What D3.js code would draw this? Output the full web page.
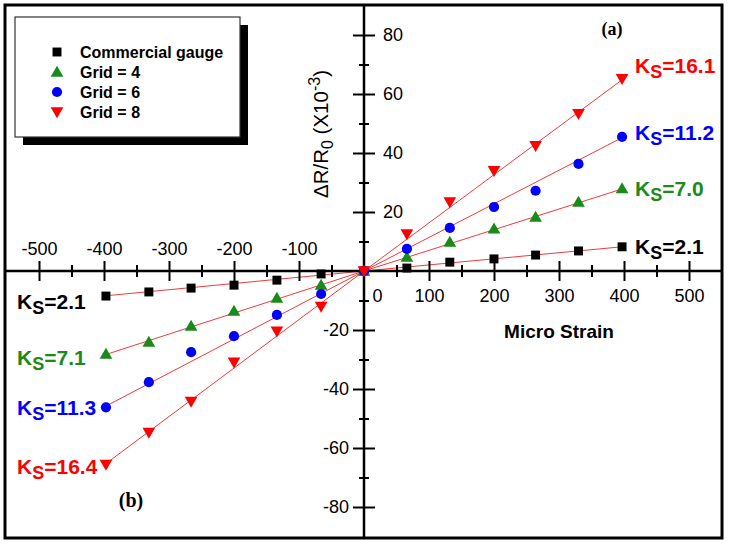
<!DOCTYPE html>
<html><head><meta charset="utf-8">
<script src="https://cdn.jsdelivr.net/npm/d3@7"></script>
<style>body{margin:0;background:#fff} svg{display:block}</style>
</head><body><svg id="c" width="731" height="546"></svg>
<script>
// ---- data ----
const strain     = [-397,-331,-266,-200,-134,-66,0,66,132,200,264,330,397];
const commercial = [-8.5,-7.1,-5.8,-4.8,-3.1,-1.0,0,1.0,3.0,4.1,5.4,6.8,8.2];
const grid4      = [-28.2,-24.1,-18.7,-13.6,-9.2,-4.8,0,4.7,9.8,14.3,18.3,23.4,27.9];
const grid6      = [-46.2,-37.7,-27.5,-22.1,-14.9,-7.8,0,7.5,14.6,21.7,27.2,36.3,45.5];
const grid8      = [-65.6,-54.7,-44.2,-30.9,-20.4,-12.0,0,12.6,23.4,34.0,42.5,53.3,65.2];
const fitX          = [-397, 0, 397];
const fitCommercial = [-8.4, 0, 8.2];
const fitGrid4      = [-28.3, 0, 27.8];
const fitGrid6      = [-45.8, 0, 45.2];
const fitGrid8      = [-65.3, 0, 64.8];
const seriesNames = ["Commercial gauge","Grid = 4","Grid = 6","Grid = 8"];
const ksRight = ["2.1","7.0","11.2","16.1"];
const ksLeft  = ["2.1","7.1","11.3","16.4"];
const xTicksNeg = [-500,-400,-300,-200,-100];
const xTicksPos = [0,100,200,300,400,500];
const xMinor = [-450,-350,-250,-150,-50,50,150,250,350,450];
const yTicksPos = [20,40,60,80];
const yTicksNeg = [-80,-60,-40,-20];
const yMinor = [-70,-50,-30,-10,10,30,50,70];

const colors = ["#000000","#1a8a1a","#0000ff","#ff0000"];
const shapes = ["square","tri","circle","tridown"];
const values = [commercial, grid4, grid6, grid8];
const fits = [fitCommercial, fitGrid4, fitGrid6, fitGrid8];

const svg = d3.select("#c");
const x = d3.scaleLinear().domain([-500,500]).range([39,689]);
const y = d3.scaleLinear().domain([-80,80]).range([507,35]);
const x0 = x(0), y0 = y(0);
const FL=5, FT=5, FR=722, FB=538;
const fmt = d => String(d);

function sym(shape){
  if(shape==="square") return d3.symbol().type(d3.symbolSquare).size(80)();
  if(shape==="circle") return d3.symbol().type(d3.symbolCircle).size(82)();
  return d3.symbol().type(d3.symbolTriangle).size(70)();
}
function symTransform(shape,px,py){
  if(shape==="tri") return `translate(${px},${py+1})`;
  if(shape==="tridown") return `translate(${px},${py-1}) rotate(180)`;
  return `translate(${px},${py})`;
}

// frame
svg.append("rect").attr("x",FL).attr("y",FT).attr("width",FR-FL).attr("height",FB-FL)
  .attr("fill","#fff").attr("stroke","#000").attr("stroke-width",3);

// fit lines
const line = d3.line().x((d,i)=>x(fitX[i])).y(d=>y(d));
fits.forEach(f=>{
  svg.append("path").attr("d",line(f)).attr("fill","none")
    .attr("stroke","#f03a3a").attr("stroke-width",1);
});

// axes lines
svg.append("line").attr("x1",FL).attr("x2",FR).attr("y1",y0).attr("y2",y0)
  .attr("stroke","#000").attr("stroke-width",2.5);
svg.append("line").attr("x1",x0).attr("x2",x0).attr("y1",FT).attr("y2",FB)
  .attr("stroke","#000").attr("stroke-width",2.5);

const tickFont = "Liberation Sans, Arial, sans-serif";
// x axis: negatives labelled above, positives below
const gxNeg = svg.append("g").attr("transform",`translate(0,${y0})`)
  .call(d3.axisTop(x).tickValues(xTicksNeg).tickSize(10).tickPadding(6).tickFormat(fmt));
const gxPos = svg.append("g").attr("transform",`translate(0,${y0})`)
  .call(d3.axisBottom(x).tickValues(xTicksPos).tickSize(10).tickPadding(8).tickFormat(fmt));
[gxNeg,gxPos].forEach(g=>{
  g.select(".domain").remove();
  g.selectAll(".tick line").attr("y1",-10).attr("y2",10).attr("stroke-width",2);
  g.selectAll(".tick text").attr("font-size",18).attr("font-family",tickFont).attr("fill","#000");
});
gxPos.selectAll(".tick").filter(d=>d===0).select("line").remove();
gxPos.selectAll(".tick").filter(d=>d===0).select("text").attr("x",13);
const gxMin = svg.append("g").attr("transform",`translate(0,${y0})`)
  .call(d3.axisBottom(x).tickValues(xMinor).tickSize(6).tickFormat(""));
gxMin.select(".domain").remove();
gxMin.selectAll(".tick line").attr("y1",-6).attr("y2",6).attr("stroke-width",2);

// y axis
const gyPos = svg.append("g").attr("transform",`translate(${x0},0)`)
  .call(d3.axisRight(y).tickValues(yTicksPos).tickSize(11).tickPadding(8).tickFormat(fmt));
const gyNeg = svg.append("g").attr("transform",`translate(${x0},0)`)
  .call(d3.axisLeft(y).tickValues(yTicksNeg).tickSize(11).tickPadding(5).tickFormat(fmt));
[gyPos,gyNeg].forEach(g=>{
  g.select(".domain").remove();
  g.selectAll(".tick line").attr("x1",-11).attr("x2",11).attr("stroke-width",2);
  g.selectAll(".tick text").attr("font-size",18).attr("font-family",tickFont).attr("fill","#000");
});
gyNeg.selectAll(".tick text").attr("x",-15);
const gyMin = svg.append("g").attr("transform",`translate(${x0},0)`)
  .call(d3.axisRight(y).tickValues(yMinor).tickSize(5).tickFormat(""));
gyMin.select(".domain").remove();
gyMin.selectAll(".tick line").attr("x1",-5).attr("x2",5).attr("stroke-width",2);

// data markers
values.forEach((vals,si)=>{
  svg.append("g").selectAll("path").data(vals).join("path")
    .attr("d",sym(shapes[si]))
    .attr("transform",(d,i)=>symTransform(shapes[si],x(strain[i]),y(d)))
    .attr("fill",colors[si]);
});

// axis titles
svg.append("text").attr("x",559).attr("y",338).attr("text-anchor","middle")
  .attr("font-family",tickFont).attr("font-weight","bold").attr("font-size",19)
  .text("Micro Strain");
const yl = svg.append("text").attr("transform","translate(328,134) rotate(-90)")
  .attr("text-anchor","middle").attr("font-family",tickFont).attr("font-size",20.5);
yl.append("tspan").text("\u0394R/R");
yl.append("tspan").attr("font-size",16).attr("dy",5).text("0");
yl.append("tspan").attr("dy",-5).text(" (X10");
yl.append("tspan").attr("font-size",16).attr("dy",-8).text("-3");
yl.append("tspan").attr("dy",8).text(")");

// Ks labels
function ks(xp, yp, val, color){
  const t = svg.append("text").attr("x",xp).attr("y",yp).attr("fill",color)
    .attr("font-family",tickFont).attr("font-weight","bold").attr("font-size",21);
  t.append("tspan").text("K");
  t.append("tspan").attr("font-size",18).attr("dy",5).text("S");
  t.append("tspan").attr("dy",-5).text("="+val);
}
const rightY = [254,196,140,73];
ksRight.forEach((v,i)=>ks(635,rightY[i],v,colors[i]));
const leftY = [309,365,415,474];
ksLeft.forEach((v,i)=>ks(17,leftY[i],v,colors[i]));

// panel letters
svg.append("text").attr("x",612).attr("y",35).attr("text-anchor","middle")
  .attr("font-family","Liberation Serif, Times New Roman, serif").attr("font-weight","bold")
  .attr("font-size",18).text("(a)");
svg.append("text").attr("x",131).attr("y",507).attr("text-anchor","middle")
  .attr("font-family","Liberation Serif, Times New Roman, serif").attr("font-weight","bold")
  .attr("font-size",20).text("(b)");

// legend
svg.append("rect").attr("x",23).attr("y",25).attr("width",225).attr("height",120).attr("fill","#000");
svg.append("rect").attr("x",15).attr("y",17).attr("width",225).attr("height",120)
  .attr("fill","#fff").attr("stroke","#333").attr("stroke-width",1.2);
seriesNames.forEach((n,i)=>{
  const ly = 52 + i*20;
  svg.append("path").attr("d",sym(shapes[i])).attr("transform",symTransform(shapes[i],57,ly))
    .attr("fill",colors[i]);
  svg.append("text").attr("x",80).attr("y",ly+6).attr("font-family",tickFont)
    .attr("font-weight","bold").attr("font-size",16).text(n);
});
</script></body></html>
